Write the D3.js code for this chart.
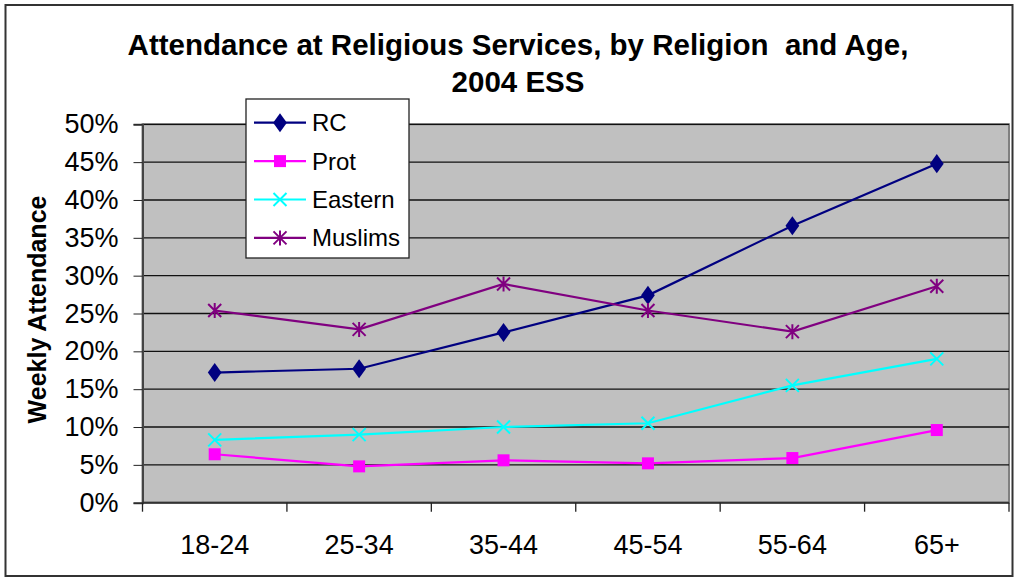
<!DOCTYPE html>
<html>
<head>
<meta charset="utf-8">
<script src="https://cdn.jsdelivr.net/npm/d3@7"></script>
<style>
  html, body { margin: 0; padding: 0; background: #fff; }
  svg { display: block; font-family: "Liberation Sans", Arial, sans-serif; }
</style>
</head>
<body>
<svg id="chart" width="1017" height="579"></svg>
<script>
const categories = ["18-24", "25-34", "35-44", "45-54", "55-64", "65+"];
const seriesNames = ["RC", "Prot", "Eastern", "Muslims"];
const rcValues      = [0.172, 0.177, 0.225, 0.274, 0.366, 0.448];
const protValues    = [0.064, 0.048, 0.056, 0.052, 0.059, 0.096];
const easternValues = [0.083, 0.090, 0.100, 0.105, 0.155, 0.190];
const muslimValues  = [0.254, 0.229, 0.289, 0.254, 0.226, 0.286];
const yTicks = [0, 0.05, 0.10, 0.15, 0.20, 0.25, 0.30, 0.35, 0.40, 0.45, 0.50];
const seriesColors = ["#000080", "#ff00ff", "#00ffff", "#800080"];
const seriesMarkers = ["diamond", "square", "x", "star"];

const series = seriesNames.map((name, i) => ({
  name, color: seriesColors[i], marker: seriesMarkers[i],
  values: [rcValues, protValues, easternValues, muslimValues][i]
}));

const svg = d3.select("#chart");
const plot = { left: 142.5, right: 1009, top: 124.3, bottom: 502.7 };

// outer frame
svg.append("rect").attr("x", 5.5).attr("y", 5).attr("width", 1007).attr("height", 571)
  .attr("fill", "#fff").attr("stroke", "#333").attr("stroke-width", 2);

const x = d3.scaleBand().domain(categories).range([plot.left, plot.right]);
const y = d3.scaleLinear().domain([0, 0.5]).range([plot.bottom, plot.top]);

// plot background
svg.append("rect").attr("x", plot.left).attr("y", plot.top)
  .attr("width", plot.right - plot.left).attr("height", plot.bottom - plot.top)
  .attr("fill", "#c0c0c0").attr("stroke", "#808080").attr("stroke-width", 2);

// gridlines
svg.append("g").selectAll("line").data(yTicks.filter(d => d > 0)).join("line")
  .attr("x1", plot.left).attr("x2", plot.right)
  .attr("y1", d => y(d)).attr("y2", d => y(d))
  .attr("stroke", "#111").attr("stroke-width", 1.3);

// y axis
const yAxis = d3.axisLeft(y).tickValues(yTicks).tickFormat(d3.format(".0%")).tickSize(9).tickPadding(15);
const gy = svg.append("g").attr("transform", `translate(${plot.left},0)`).call(yAxis);
gy.select(".domain").attr("stroke", "#444").attr("stroke-width", 2);
gy.selectAll(".tick line").attr("stroke", "#222");
gy.selectAll("text").attr("font-size", 27).attr("fill", "#000")
  .attr("font-family", "'Liberation Sans', Arial, sans-serif");

// x axis (ticks at category boundaries)
const gx = svg.append("g").attr("transform", `translate(0,${plot.bottom})`);
gx.append("line").attr("x1", plot.left).attr("x2", plot.right).attr("y1", 0).attr("y2", 0)
  .attr("stroke", "#333").attr("stroke-width", 2);
const bounds = categories.map(c => x(c)).concat([x(categories[categories.length - 1]) + x.bandwidth()]);
gx.selectAll("line.tk").data(bounds).join("line").attr("class", "tk")
  .attr("x1", d => d).attr("x2", d => d).attr("y1", 0).attr("y2", 9)
  .attr("stroke", "#222").attr("stroke-width", 1.3);
gx.selectAll("text").data(categories).join("text")
  .attr("x", d => x(d) + x.bandwidth() / 2).attr("y", 51.5)
  .attr("text-anchor", "middle").attr("font-size", 27).attr("fill", "#000")
  .text(d => d);

// lines
const line = d3.line().x((d, i) => x(categories[i]) + x.bandwidth() / 2).y(d => y(d));

function drawMarker(g, type, color, cx, cy) {
  if (type === "diamond") {
    g.append("path").attr("d", d3.symbol(d3.symbolDiamond, 105)())
      .attr("transform", `translate(${cx},${cy}) scale(1.25,1)`).attr("fill", color);
  } else if (type === "square") {
    g.append("rect").attr("x", cx - 6).attr("y", cy - 6).attr("width", 12).attr("height", 12).attr("fill", color);
  } else if (type === "x") {
    const s = 6.5;
    g.append("path").attr("d", `M${cx - s},${cy - s}L${cx + s},${cy + s}M${cx - s},${cy + s}L${cx + s},${cy - s}`)
      .attr("stroke", color).attr("stroke-width", 2).attr("fill", "none");
  } else if (type === "star") {
    const s = 6.5;
    g.append("path").attr("d", `M${cx - s},${cy - s}L${cx + s},${cy + s}M${cx - s},${cy + s}L${cx + s},${cy - s}M${cx},${cy - s - 1}L${cx},${cy + s + 1}`)
      .attr("stroke", color).attr("stroke-width", 2).attr("fill", "none");
  }
}

const gs = svg.append("g");
series.forEach(s => {
  gs.append("path").datum(s.values).attr("d", line)
    .attr("fill", "none").attr("stroke", s.color).attr("stroke-width", 2.2);
});
series.forEach(s => {
  const g = gs.append("g");
  s.values.forEach((v, i) => drawMarker(g, s.marker, s.color, x(categories[i]) + x.bandwidth() / 2, y(v)));
});

// legend
const lg = svg.append("g");
lg.append("rect").attr("x", 246).attr("y", 99).attr("width", 163).attr("height", 159)
  .attr("fill", "#fff").attr("stroke", "#222").attr("stroke-width", 1.3);
series.forEach((s, i) => {
  const cy = 122.7 + i * 38.4;
  lg.append("line").attr("x1", 254).attr("x2", 306).attr("y1", cy).attr("y2", cy)
    .attr("stroke", s.color).attr("stroke-width", 2.2);
  drawMarker(lg, s.marker, s.color, 280, cy);
  lg.append("text").attr("x", 312).attr("y", cy + 8.5).attr("font-size", 24).attr("fill", "#000").text(s.name);
});

// title
const title = svg.append("text").attr("text-anchor", "middle").attr("font-weight", "bold")
  .attr("font-size", 29.5).attr("fill", "#000");
title.append("tspan").attr("x", 518).attr("y", 54.5).text("Attendance at Religious Services, by Religion\u00a0 and Age,");
title.append("tspan").attr("x", 518).attr("y", 92).text("2004 ESS");

// y axis title
svg.append("text").attr("transform", "translate(46,309.5) rotate(-90)")
  .attr("text-anchor", "middle").attr("font-weight", "bold").attr("font-size", 25).attr("fill", "#000")
  .text("Weekly Attendance");
</script>
</body>
</html>
